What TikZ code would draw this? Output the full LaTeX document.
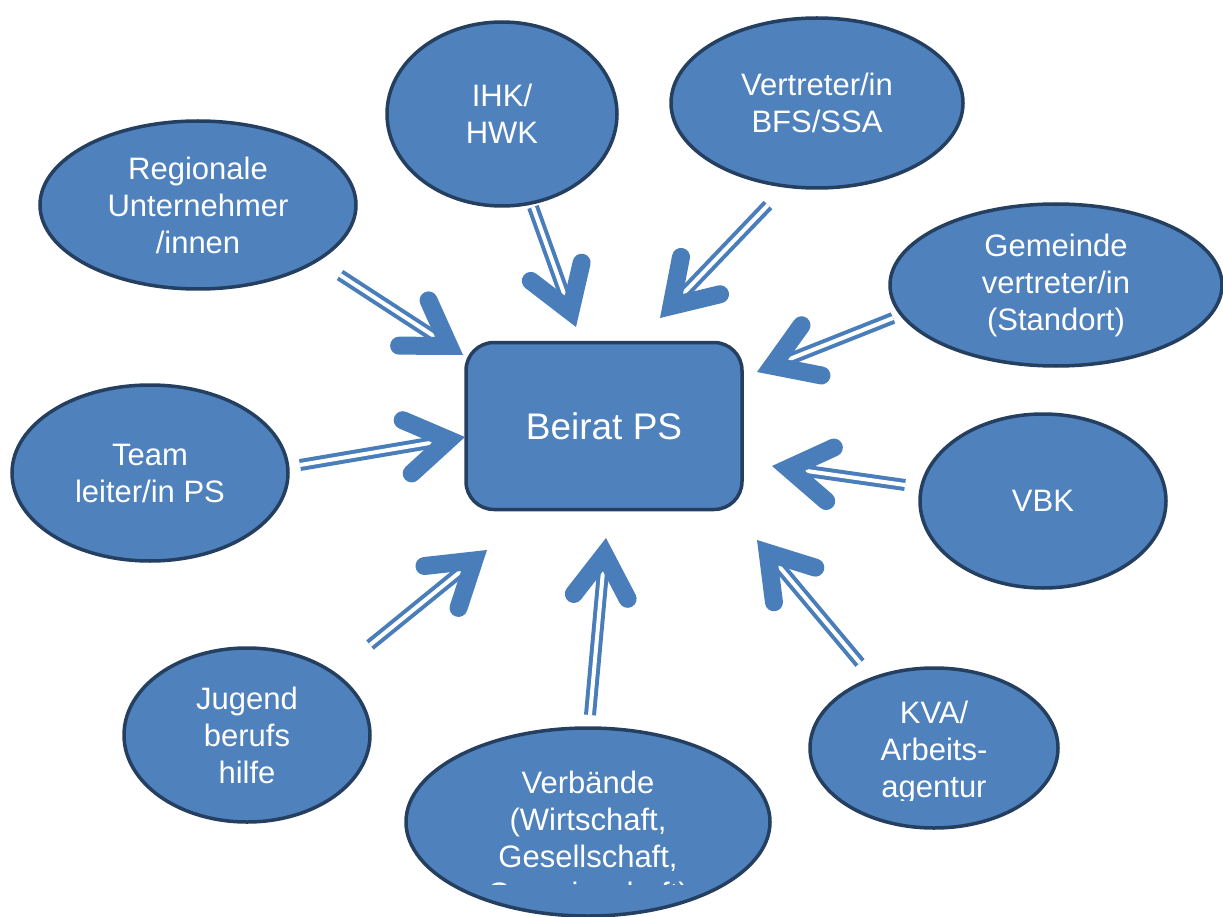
\documentclass[tikz,border=0pt]{standalone}
\usepackage{fontspec}
\setmainfont{Liberation Sans}
\usepackage{tikz}
\usetikzlibrary{arrows.meta,shapes.geometric}
\definecolor{blobfill}{HTML}{4F81BD}
\definecolor{blobline}{HTML}{243F60}
\definecolor{arrowblue}{HTML}{4A7EBB}

\begin{document}
\begin{tikzpicture}[x=1pt, y=-1pt,
  blob/.style={ellipse, draw=blobline, line width=3.5pt, fill=blobfill, text=white, align=center, inner sep=0pt, font=\fontsize{31}{37}\selectfont},
  blobtext/.style={text=white, align=center, inner sep=0pt, font=\fontsize{31}{37}\selectfont},
  pfeil/.style={draw=arrowblue, line width=4pt, double=white, double distance=4pt,
    -{Straight Barb[length=42pt, width=54pt, line width=18pt, line cap=round, line join=miter]}}]
\useasboundingbox (0,0) rectangle (1223,917);

% centre
\node[draw=blobline, line width=3.5pt, fill=blobfill, rounded corners=28pt, minimum width=276pt, minimum height=167pt, text=white, font=\fontsize{37}{44}\selectfont] (beirat) at (604,426) {Beirat PS};

% partners
\node[blob, minimum width=316pt, minimum height=168pt] (reg) at (198,205) {Regionale\\Unternehmer\\/innen};
\node[blob, minimum width=230pt, minimum height=184pt] (ihk) at (502,114) {IHK/\\HWK};
\node[blob, minimum width=292pt, minimum height=170pt] (bfs) at (817,103) {Vertreter/in\\BFS/SSA};
\node[blob, minimum width=332pt, minimum height=162pt] (gem) at (1056,285) {Gemeinde\\vertreter/in\\(Standort)};
\node[blob, minimum width=276pt, minimum height=176pt] (team) at (150,473) {Team\\leiter/in PS};
\node[blob, minimum width=246pt, minimum height=174pt] (vbk) at (1043,501) {VBK};
\node[blob, minimum width=246pt, minimum height=174pt] (jbh) at (247,735) {Jugend\\berufs\\hilfe};
\node[blob, minimum width=364pt, minimum height=188pt] (verb) at (588,822) {};
\node[blob, minimum width=248pt, minimum height=160pt] (kva) at (934,748) {};

% cut text
\begin{scope}
\clip (405,727) rectangle (770,884);
\node[blobtext] (verbtext) at (588,841) {Verbände\\(Wirtschaft,\\Gesellschaft,\\Gemeinschaft)};
\end{scope}
\begin{scope}
\clip (810,668) rectangle (1058,800);
\node[blobtext] (kvatext) at (934,752) {KVA/\\Arbeits-\\agentur};
\end{scope}

% arrows
\coordinate (regA) at (340,275);  \coordinate (regB) at (463,355);
\coordinate (ihkA) at (533,207);  \coordinate (ihkB) at (576,327);
\coordinate (bfsA) at (768,205);  \coordinate (bfsB) at (660,318);
\coordinate (gemA) at (893,318);  \coordinate (gemB) at (757,372);
\coordinate (teamA) at (300,465); \coordinate (teamB) at (465,437);
\coordinate (vbkA) at (905,485);  \coordinate (vbkB) at (772,466);
\coordinate (jbhA) at (370,645);  \coordinate (jbhB) at (487,550);
\coordinate (verbA) at (590,715); \coordinate (verbB) at (606,538);
\coordinate (kvaA) at (860,663);  \coordinate (kvaB) at (757,540);
\foreach \n in {reg,ihk,bfs,gem,team,vbk,jbh,verb,kva}
  \draw[pfeil] (\n A) -- (\n B);
\end{tikzpicture}
\end{document}
